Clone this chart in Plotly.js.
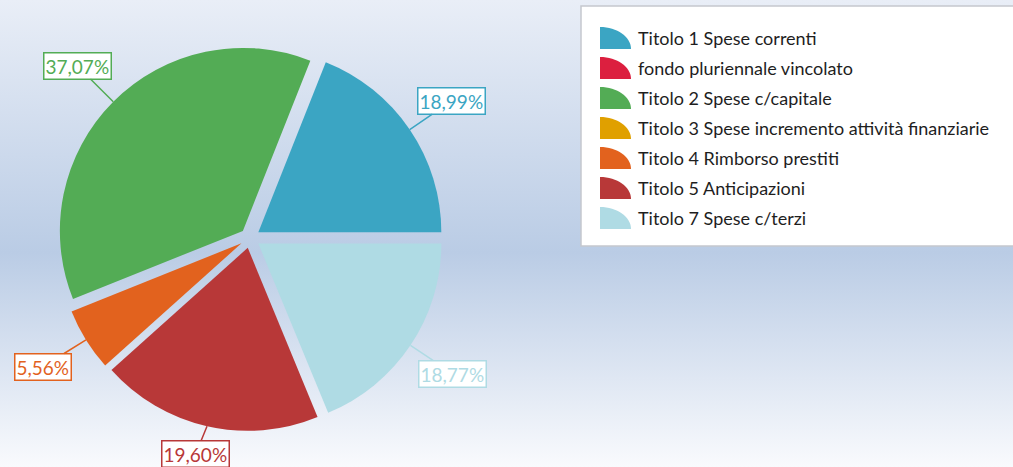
<!DOCTYPE html>
<html>
<head>
<meta charset="utf-8">
<script src="https://cdn.plot.ly/plotly-3.0.1.min.js"></script>
<style>
  html, body { margin: 0; padding: 0; }
  #chart {
    width: 1013px; height: 467px;
    background: linear-gradient(to bottom, #e9eef7 0%, #bacce5 54%, #f9fafd 100%);
  }
</style>
</head>
<body>
<div id="chart"></div>
<script>
// ---- data ----
const categories = [
  'Titolo 1 Spese correnti',
  'fondo pluriennale vincolato',
  'Titolo 2 Spese c/capitale',
  'Titolo 3 Spese incremento attività finanziarie',
  'Titolo 4 Rimborso prestiti',
  'Titolo 5 Anticipazioni',
  'Titolo 7 Spese c/terzi'
];
const values = [18.99, 0, 37.07, 0, 5.56, 19.60, 18.77];
const colors = ['#3ba5c3', '#dc1f3f', '#53ac55', '#e0a000', '#e2621e', '#b83838', '#afdbe4'];

// ---- layout constants ----
const W = 1013, H = 467;
const CX = 250, CY = 238, R = 183, PULL = 0.055;
const HALF = R * (1 + PULL);
const FONT = 'Lato, "Open Sans", sans-serif';

const total = values.reduce((a, b) => a + b, 0);
// Plotly's counterclockwise pies end the first slice at `rotation`;
// shift so the first slice starts at 3 o'clock and grows upward.
const rotation = 90 - values[0] / total * 360;

const trace = {
  type: 'pie',
  labels: categories,
  values: values,
  sort: false,
  direction: 'counterclockwise',
  rotation: rotation,
  pull: values.map(() => PULL),
  marker: { colors: colors, line: { width: 0 } },
  textinfo: 'none',
  hoverinfo: 'label+percent',
  showlegend: false,
  domain: {
    x: [(CX - HALF) / W, (CX + HALF) / W],
    y: [1 - (CY + HALF) / H, 1 - (CY - HALF) / H]
  }
};

const annotations = [];
const shapes = [];

// slice labels with leader lines, positioned from the data angles
let cum = 0;
const D = 244;
values.forEach((v, i) => {
  if (v <= 0) return;
  const mid = (cum + v / 2) / total * 2 * Math.PI;
  cum += v;
  const ex = CX + HALF * Math.cos(mid);
  const ey = CY - HALF * Math.sin(mid);
  let lx = CX + D * Math.cos(mid);
  let ly = CY - D * Math.sin(mid);
  ly = Math.max(16, Math.min(H - 13, ly));
  const pct = (v / total * 100).toFixed(2).replace('.', ',') + '%';
  annotations.push({
    x: ex / W, y: 1 - ey / H, xref: 'paper', yref: 'paper',
    ax: lx - ex, ay: ly - ey,
    text: pct,
    showarrow: true, arrowhead: 0, arrowwidth: 1.5, arrowcolor: colors[i],
    bordercolor: colors[i], borderwidth: 1.5, borderpad: 1, bgcolor: '#ffffff',
    font: { family: FONT, size: 19, color: colors[i] }
  });
});

// custom legend box
shapes.push({
  type: 'rect', xref: 'paper', yref: 'paper',
  x0: 581 / W, x1: 1015 / W, y0: 1 - 246 / H, y1: 1 - 6 / H,
  fillcolor: '#ffffff', line: { color: '#c5c8ce', width: 1.5 }
});
categories.forEach((name, i) => {
  const top = 27 + 30 * i, bot = top + 22, left = 600, right = 631;
  const k = 0.5523;
  const px = x => (x / W).toFixed(5);
  const py = y => (1 - y / H).toFixed(5);
  const path = 'M' + px(left) + ',' + py(bot) +
    ' L' + px(left) + ',' + py(top) +
    ' C' + px(left + k * (right - left)) + ',' + py(top) + ' ' +
    px(right) + ',' + py(bot - k * (bot - top)) + ' ' +
    px(right) + ',' + py(bot) + ' Z';
  shapes.push({
    type: 'path', xref: 'paper', yref: 'paper', path: path,
    fillcolor: colors[i], line: { width: 0 }
  });
  annotations.push({
    x: 636 / W, y: 1 - (38 + 30 * i) / H, xref: 'paper', yref: 'paper',
    xanchor: 'left', yanchor: 'middle', showarrow: false,
    text: name, font: { family: FONT, size: 18, color: '#1e1e1e' }
  });
});

const layout = {
  width: W, height: H,
  margin: { l: 0, r: 0, t: 0, b: 0 },
  paper_bgcolor: 'rgba(0,0,0,0)',
  plot_bgcolor: 'rgba(0,0,0,0)',
  showlegend: false,
  annotations: annotations,
  shapes: shapes,
  font: { family: FONT }
};

Plotly.newPlot('chart', [trace], layout, { displayModeBar: false, responsive: false });
</script>
</body>
</html>
